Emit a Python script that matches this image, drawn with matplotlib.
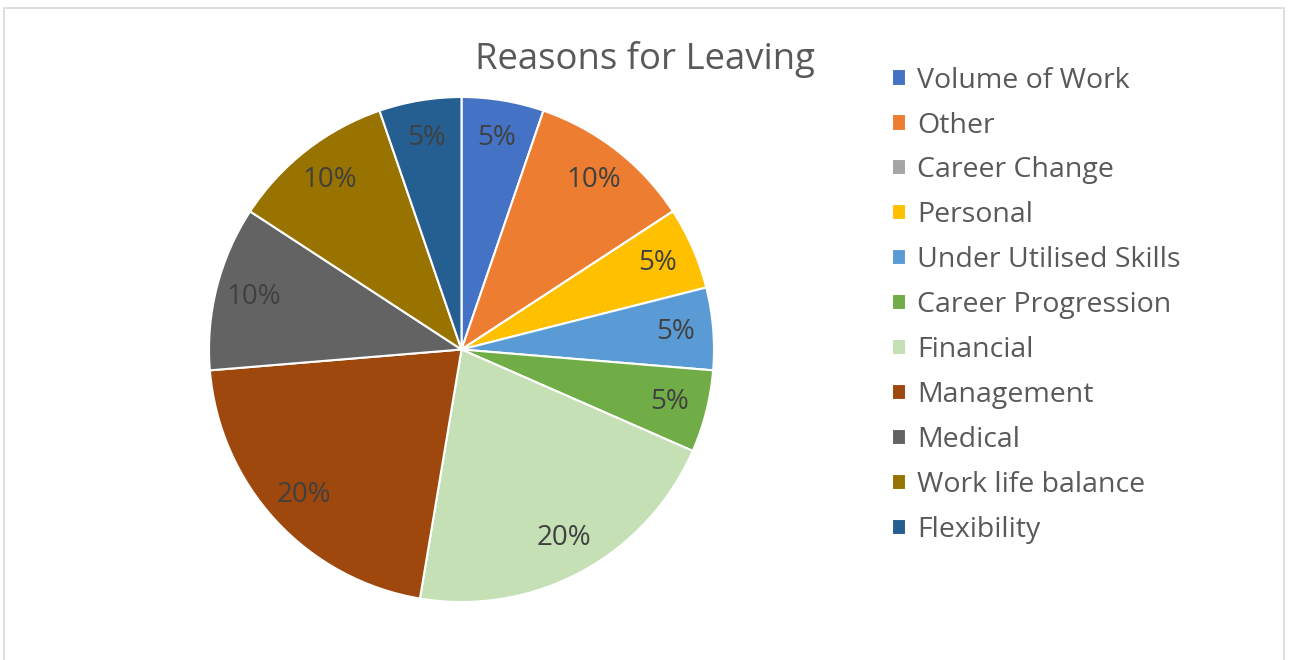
import matplotlib.pyplot as plt
from matplotlib.patches import Rectangle

plt.rcParams['font.family'] = ['Open Sans', 'DejaVu Sans']

reasons = ['Volume of Work', 'Other', 'Career Change', 'Personal', 'Under Utilised Skills',
           'Career Progression', 'Financial', 'Management', 'Medical', 'Work life balance',
           'Flexibility']
values = [5, 10, 0, 5, 5, 5, 20, 20, 10, 10, 5]
colors = ['#4472C4', '#ED7D31', '#A5A5A5', '#FFC000', '#5B9BD5', '#70AD47',
          '#C5E0B4', '#9E480E', '#636363', '#997300', '#255E91']

total = sum(values)

fig = plt.figure(figsize=(12.9, 6.6), dpi=100)

# light grey chart border
fig.patches.append(Rectangle((4 / 1290, -0.01), 1280 / 1290, (660 - 8) / 660 + 0.01,
                             transform=fig.transFigure, fill=False,
                             edgecolor='#D9D9D9', linewidth=1.2))

ax = fig.add_axes([209 / 1290, 58 / 660, 505 / 1290, 505 / 660])
wedges, texts, autotexts = ax.pie(
    values, colors=colors, startangle=90, counterclock=False, radius=1,
    autopct=lambda p: f'{p * total / 100:.0f}%' if p > 0 else '',
    pctdistance=0.85,
    wedgeprops=dict(edgecolor='white', linewidth=1.5),
    textprops=dict(color='#404040', fontsize=20))
ax.set_xlim(-1, 1)
ax.set_ylim(-1, 1)

fig.text(645 / 1290, 1 - 59 / 660, 'Reasons for Leaving', ha='center', va='center',
         fontsize=26.3, color='#595959')

fig.legend(wedges, reasons, loc='upper left', bbox_to_anchor=(892 / 1290, 1 - 66.6 / 660),
           frameon=False, fontsize=20.5, labelcolor='#595959', borderpad=0, borderaxespad=0,
           handlelength=0.5, handleheight=0.5, handletextpad=0.39, labelspacing=0.595)

fig.savefig('out.png', dpi=100)
